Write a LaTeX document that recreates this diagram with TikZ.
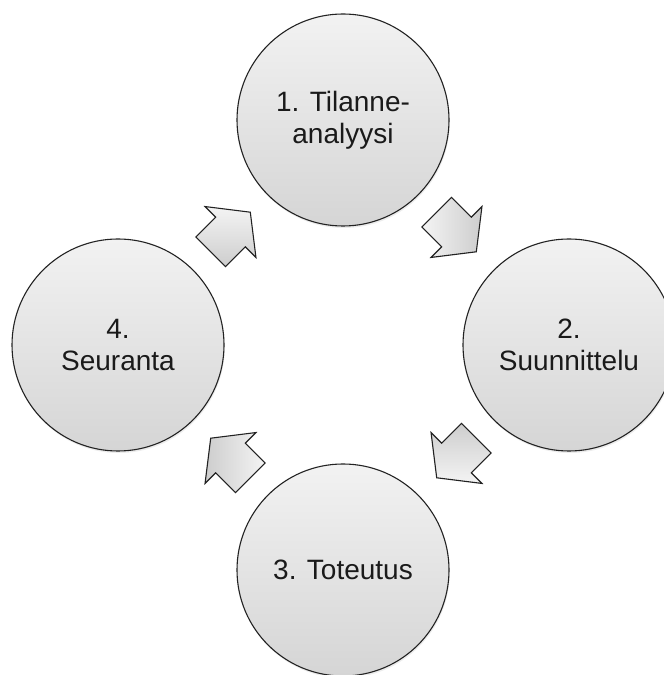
\documentclass[tikz,border=0pt]{standalone}
\usepackage{fontspec}
\setmainfont{Liberation Sans}
\usetikzlibrary{shadows}
\definecolor{circtop}{HTML}{F2F2F2}
\definecolor{circbot}{HTML}{D5D5D5}
\definecolor{arrlight}{HTML}{F4F4F4}
\definecolor{arrdark}{HTML}{CDCDCD}
\definecolor{outline}{HTML}{222222}
\definecolor{textcol}{HTML}{1A1A1A}
\tikzset{
  stage/.style={circle, minimum size=212pt, inner sep=0pt, draw=outline, line width=1.1pt,
    top color=circtop, bottom color=circbot, align=center, text=textcol,
    font=\fontsize{28}{32}\selectfont,
    drop shadow={shadow xshift=0.8pt, shadow yshift=-2pt, opacity=0.15}},
  arrowstyle/.style={draw=outline, line width=1.1pt, line join=miter,
    top color=arrlight, bottom color=arrdark},
  blockarrow/.pic={
    \path[arrowstyle, shading angle=#1]
      (-28,-21) -- (0,-21) -- (0,-36) -- (28,0) -- (0,36) -- (0,21) -- (-28,21) -- cycle;
  }
}
\begin{document}
\begin{tikzpicture}[x=1pt,y=1pt]
\useasboundingbox (0,0) rectangle (664,675);
\fill[white] (0,0) rectangle (664,675);
\node[stage] (c1) at (343,555) {1. Tilanne-\\analyysi};
\node[stage] (c2) at (569,330) {2.\\Suunnittelu};
\node[stage] (c3) at (343,105) {3. Toteutus};
\node[stage] (c4) at (118,330) {4.\\Seuranta};
\pic[rotate=45]   (a1) at (230.5,443) {blockarrow=0};
\pic[rotate=-45]  (a2) at (456.5,443) {blockarrow=90};
\pic[rotate=-135] (a3) at (456.5,217) {blockarrow=180};
\pic[rotate=135]  (a4) at (230.5,217) {blockarrow=-90};
\end{tikzpicture}
\end{document}
